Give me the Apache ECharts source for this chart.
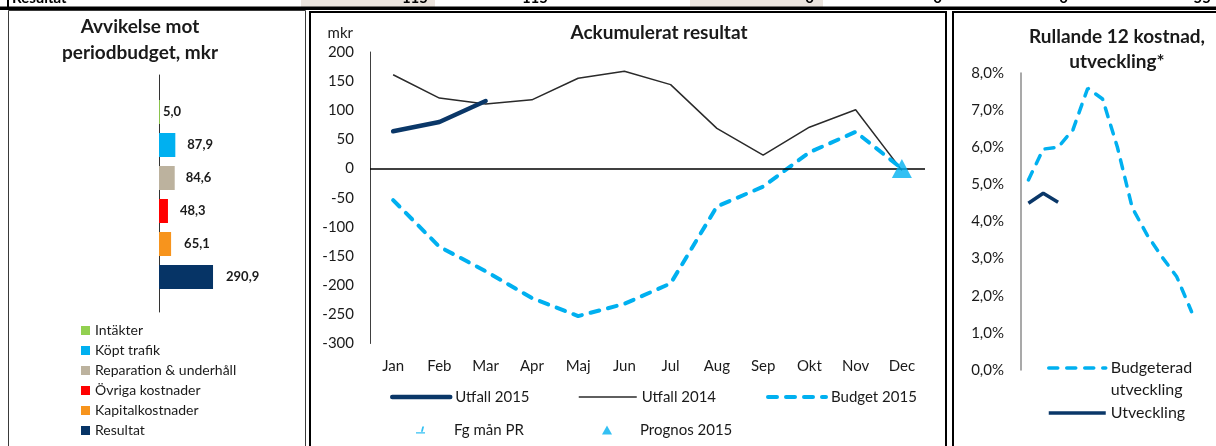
<!DOCTYPE html>
<html>
<head>
<meta charset="utf-8">
<title>Resultat</title>
<script src="https://cdn.jsdelivr.net/npm/echarts@6/dist/echarts.min.js"></script>
<style>
  html, body { margin: 0; padding: 0; background: #fff; }
  #chart { width: 1216px; height: 446px; }
</style>
</head>
<body>
<div id="chart"></div>
<script>
// Avvikelse mot periodbudget, mkr
const devCategories = ['Intäkter', 'Köpt trafik', 'Reparation & underhåll', 'Övriga kostnader', 'Kapitalkostnader', 'Resultat']
const devValues = [5.0, 87.9, 84.6, 48.3, 65.1, 290.9]

// Ackumulerat resultat, mkr
const months = ['Jan', 'Feb', 'Mar', 'Apr', 'Maj', 'Jun', 'Jul', 'Aug', 'Sep', 'Okt', 'Nov', 'Dec']
const utfall2015 = [64, 80, 116]
const utfall2014 = [161, 121, 111, 118, 155, 167, 144, 69, 23, 71, 101, -3]
const budget2015 = [-54, -134, -176, -222, -253, -232, -197, -65, -31, 28, 63, 0]
const fgManPR = []
const prognos2015 = [['Dec', 0]]

// Rullande 12 kostnad, utveckling (procent)
const rollingBudget = [5.12, 5.95, 6.0, 6.47, 7.59, 7.30, 6.0, 4.37, 3.64, 3.05, 2.51, 1.57]
const rollingActual = [4.49, 4.76, 4.52]

// table row that is cut off at the top of the picture
const tableTexts = ['Resultat', '115', '115', '0', '0', '0', '55']

const FONT = 'Lato, "Open Sans", sans-serif'
const TEXT = '#1a1a1a'
const NAVY = '#0a3768'
const CYAN = '#00b0f0'
const devColors = ['#92d050', '#00b0f0', '#bcb29e', '#ff0000', '#f7941d', '#063466']
const devLabelGap = [3, 12, 11, 12, 13, 13]
const tableX = [12, 428, 548, 814, 942, 1068, 1211]

const dec = v => v.toFixed(1).replace('.', ',')
const pct = v => v.toFixed(1).replace('.', ',') + '%'

const chart = echarts.init(document.getElementById('chart'))

const devSeries = devCategories.map((name, i) => ({
  name,
  type: 'bar',
  xAxisIndex: 0,
  yAxisIndex: 0,
  barWidth: 24,
  barGap: '-100%',
  itemStyle: { color: devColors[i] },
  label: {
    show: true,
    position: 'right',
    distance: devLabelGap[i],
    formatter: p => dec(p.value),
    fontFamily: FONT,
    fontSize: 13,
    fontWeight: 'bold',
    color: TEXT
  },
  data: devValues.map((v, j) => (j === i ? v : '-'))
}))

const legendText = { fontFamily: FONT, fontSize: 15, color: TEXT, lineHeight: 16 }

// one legend per item so each can sit where the reference puts it
function singleLegend (name, left, top, extra) {
  return Object.assign({
    data: [name],
    left,
    top,
    padding: 0,
    itemWidth: 58,
    itemHeight: 12,
    selectedMode: false,
    itemStyle: { opacity: 0 }, // hide the symbol drawn on line icons
    textStyle: legendText
  }, extra)
}

const graphics = [
  { type: 'rect', shape: { x: 301, y: 0, width: 134, height: 7 }, style: { fill: '#ebe4dd' } },
  { type: 'rect', shape: { x: 690, y: 0, width: 133, height: 7 }, style: { fill: '#ebe4dd' } }
]
tableTexts.forEach((t, i) => {
  graphics.push({
    type: 'text',
    x: tableX[i],
    y: -2,
    style: { text: t, font: 'bold 15px ' + FONT, fill: '#000', align: i === 0 ? 'left' : 'right', verticalAlign: 'middle' }
  })
})
graphics.push(
  { type: 'rect', shape: { x: 0, y: 6.5, width: 1216, height: 3.5 }, style: { fill: '#000' } },
  { type: 'line', shape: { x1: 8, y1: 0, x2: 8, y2: 8 }, style: { stroke: '#000', lineWidth: 2 } },
  // panel frames
  { type: 'rect', shape: { x: 8.5, y: 10.5, width: 297, height: 460 }, style: { fill: 'none', stroke: '#3a3a3a', lineWidth: 1 } },
  { type: 'rect', shape: { x: 310, y: 12, width: 636, height: 460 }, style: { fill: 'none', stroke: '#000', lineWidth: 2 } },
  { type: 'rect', shape: { x: 953, y: 12, width: 300, height: 460 }, style: { fill: 'none', stroke: '#000', lineWidth: 2 } },
  // titles
  {
    type: 'text', x: 140, y: 14,
    style: { text: 'Avvikelse mot\nperiodbudget, mkr', font: 'bold 19px ' + FONT, fill: TEXT, align: 'center', verticalAlign: 'top', lineHeight: 26 }
  },
  {
    type: 'text', x: 659, y: 22,
    style: { text: 'Ackumulerat resultat', font: 'bold 19px ' + FONT, fill: TEXT, align: 'center', verticalAlign: 'top', lineHeight: 22 }
  },
  {
    type: 'text', x: 1117, y: 24,
    style: { text: 'Rullande 12 kostnad,\nutveckling*', font: 'bold 19px ' + FONT, fill: TEXT, align: 'center', verticalAlign: 'top', lineHeight: 25 }
  }
)

const option = {
  animation: false,
  backgroundColor: '#fff',
  textStyle: { fontFamily: FONT },
  grid: [
    { left: 159, top: 95.5, width: 130, height: 198 },
    { left: 159, top: 75, width: 130, height: 237 },
    { left: 370, top: 52, width: 555, height: 291.5 },
    { left: 1021, top: 73, width: 178, height: 297 }
  ],
  xAxis: [
    { gridIndex: 0, type: 'value', min: 0, max: 700, show: false },
    { gridIndex: 1, type: 'value', min: 0, max: 1, show: false },
    {
      gridIndex: 2,
      type: 'category',
      data: months,
      axisLine: { show: false },
      axisTick: { show: false },
      axisLabel: { margin: 15, fontSize: 15, color: TEXT, fontFamily: FONT, interval: 0 }
    },
    { gridIndex: 3, type: 'category', data: months, show: false }
  ],
  yAxis: [
    { gridIndex: 0, type: 'category', data: devCategories, inverse: true, show: false },
    {
      gridIndex: 1,
      type: 'value',
      min: 0,
      max: 1,
      axisLine: { show: true, lineStyle: { color: '#333', width: 1 } },
      axisTick: { show: false },
      axisLabel: { show: false },
      splitLine: { show: false }
    },
    {
      gridIndex: 2,
      type: 'value',
      min: -300,
      max: 200,
      interval: 50,
      name: 'mkr',
      nameLocation: 'end',
      nameGap: 11,
      nameTextStyle: { align: 'right', padding: [0, 17, 0, 0], fontSize: 15, color: TEXT, fontFamily: FONT },
      axisLine: { show: true, lineStyle: { color: '#404040', width: 1 } },
      axisTick: { show: false },
      splitLine: { show: false },
      axisLabel: { margin: 16, fontSize: 15, color: TEXT, fontFamily: FONT }
    },
    {
      gridIndex: 3,
      type: 'value',
      min: 0,
      max: 8,
      interval: 1,
      axisLine: { show: true, lineStyle: { color: '#8c8c8c', width: 1.5 } },
      axisTick: { show: false },
      splitLine: { show: false },
      axisLabel: { margin: 17, fontSize: 15, color: TEXT, fontFamily: FONT, formatter: pct }
    }
  ],
  legend: [
    {
      data: devCategories,
      orient: 'vertical',
      left: 81,
      top: 323,
      padding: 0,
      itemWidth: 9,
      itemHeight: 9,
      itemGap: 5,
      icon: 'rect',
      selectedMode: false,
      textStyle: { fontFamily: FONT, fontSize: 14, color: TEXT, lineHeight: 15 }
    },
    singleLegend('Utfall 2015', 390, 389, { lineStyle: { width: 4.5 } }),
    singleLegend('Utfall 2014', 578, 389, { lineStyle: { width: 1.5 } }),
    singleLegend('Budget 2015', 766, 389, { lineStyle: { width: 4 } }),
    singleLegend('Fg mån PR', 416, 422, {
      data: [{ name: 'Fg mån PR', icon: 'path://M7,0 L9,0 L7.5,6 L5.5,6 Z M0,6.5 L10,6.5 L10,8 L0,8 Z' }],
      itemWidth: 9,
      itemHeight: 8,
      itemStyle: {},
      textStyle: Object.assign({}, legendText, { padding: [0, 0, 0, 24] })
    }),
    singleLegend('Prognos 2015', 602, 422, {
      itemWidth: 10,
      itemHeight: 9,
      itemStyle: {},
      textStyle: Object.assign({}, legendText, { padding: [0, 0, 0, 23] })
    }),
    singleLegend('Budgeterad utveckling', 1047, 335, {
      itemWidth: 57,
      lineStyle: { width: 3.5 },
      // blank first line keeps the icon level with "Budgeterad"
      formatter: () => ' \nBudgeterad\nutveckling',
      textStyle: Object.assign({}, legendText, { fontSize: 16, lineHeight: 22 })
    }),
    singleLegend('Utveckling', 1047, 405, {
      itemWidth: 57,
      lineStyle: { width: 3.5 },
      textStyle: Object.assign({}, legendText, { fontSize: 16 })
    })
  ],
  graphic: graphics,
  series: devSeries.concat([
    {
      name: 'Utfall 2014',
      type: 'line',
      xAxisIndex: 2,
      yAxisIndex: 2,
      symbol: 'none',
      lineStyle: { color: '#2a2a2a', width: 1.5 },
      itemStyle: { color: '#2a2a2a' },
      data: utfall2014,
      z: 3,
      markLine: {
        silent: true,
        symbol: 'none',
        label: { show: false },
        lineStyle: { color: '#000', width: 1.5, type: 'solid' },
        data: [{ yAxis: 0 }]
      }
    },
    {
      name: 'Budget 2015',
      type: 'line',
      xAxisIndex: 2,
      yAxisIndex: 2,
      symbol: 'none',
      lineStyle: { color: CYAN, width: 4, type: [9, 9], cap: 'round' },
      itemStyle: { color: CYAN },
      data: budget2015,
      z: 4
    },
    {
      name: 'Utfall 2015',
      type: 'line',
      xAxisIndex: 2,
      yAxisIndex: 2,
      symbol: 'none',
      lineStyle: { color: NAVY, width: 4.5, cap: 'round' },
      itemStyle: { color: NAVY },
      data: utfall2015,
      z: 5
    },
    {
      name: 'Fg mån PR',
      type: 'scatter',
      xAxisIndex: 2,
      yAxisIndex: 2,
      itemStyle: { color: CYAN },
      data: fgManPR
    },
    {
      name: 'Prognos 2015',
      type: 'scatter',
      xAxisIndex: 2,
      yAxisIndex: 2,
      symbol: 'triangle',
      symbolSize: [20, 19],
      itemStyle: { color: CYAN },
      data: prognos2015,
      z: 6
    },
    {
      name: 'Budgeterad utveckling',
      type: 'line',
      xAxisIndex: 3,
      yAxisIndex: 3,
      symbol: 'none',
      lineStyle: { color: CYAN, width: 3.5, type: [9, 9], cap: 'round' },
      itemStyle: { color: CYAN },
      data: rollingBudget
    },
    {
      name: 'Utveckling',
      type: 'line',
      xAxisIndex: 3,
      yAxisIndex: 3,
      symbol: 'none',
      lineStyle: { color: NAVY, width: 3.5 },
      itemStyle: { color: NAVY },
      data: rollingActual
    }
  ])
}

chart.setOption(option)
</script>
</body>
</html>
